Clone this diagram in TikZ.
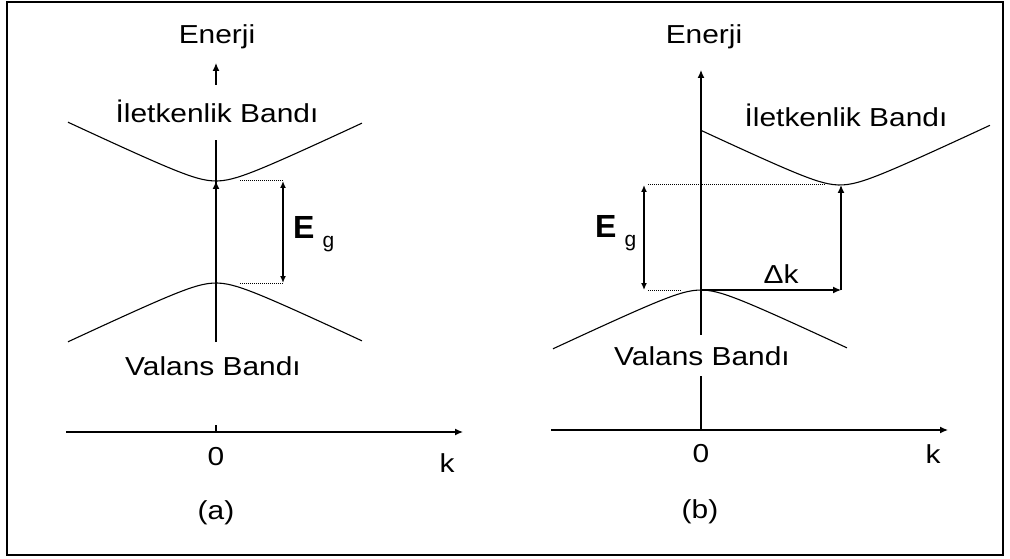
\documentclass[tikz,border=0pt]{standalone}
\usepackage{fontspec}
\setmainfont{Liberation Sans}[FakeStretch=1.15]
\newfontfamily\gapfont{Liberation Sans}
\usetikzlibrary{arrows.meta}

\begin{document}
\begin{tikzpicture}[x=1pt, y=-1pt, every node/.style={font=\fontsize{26}{30}\selectfont, inner sep=0pt},
  band/.style={line width=1.1pt},
  axis/.style={line width=1.3pt},
  tip/.style={-{Latex[length=8pt,width=7pt]}},
  both/.style={{Latex[length=7pt,width=6pt]}-{Latex[length=7pt,width=6pt]}},
  guide/.style={densely dotted, line width=1pt},
  gap/.style={anchor=base west, font=\gapfont\fontsize{32}{36}\selectfont\bfseries}]
\useasboundingbox (0,0) rectangle (1010,559);
\draw[line width=1.5pt] (7,2) rectangle (1003,555);

% (a) direct gap
\coordinate (cminA) at (216,181);
\coordinate (vmaxA) at (216,283);
\coordinate (egtA) at (283,181);
\coordinate (egbA) at (283,283);
\coordinate (kA0) at (66,432);
\coordinate (kA1) at (463,432);
\draw[band] plot[domain=-148:146, samples=60] ({216+\x},{181-4.7*(sqrt(6.25+(\x/10)*(\x/10))-2.5)});
\draw[band] plot[domain=-148:146, samples=60] ({216+\x},{283+4.7*(sqrt(6.25+(\x/10)*(\x/10))-2.5)});
\draw[axis] (216,342) -- (216,140);
\draw[axis, tip] (vmaxA) -- (cminA);
\draw[axis, tip] (216,85) -- (216,63);
\draw[guide] (240,181) -- (egtA);
\draw[guide] (240,283) -- (egbA);
\draw[axis, both] (egtA) -- (egbA);
\draw[axis, tip] (kA0) -- (kA1);
\draw[axis] (216,425) -- (216,432);
\node[anchor=base] (enA) at (217,44) {Enerji};
\node[anchor=base] (ibA) at (217,123) {İletkenlik Bandı};
\node[anchor=base] (vbA) at (213,375) {Valans Bandı};
\node[gap] (egA) at (293,238) {E\hspace{8pt}\raisebox{-9.5pt}{\fontsize{21}{21}\selectfont\mdseries g}};
\node[anchor=base] (zA) at (216,465) {0};
\node[anchor=base] (kA) at (447,472) {k};
\node[anchor=base] (capA) at (216,519) {(a)};

% (b) indirect gap
\coordinate (cminB) at (841,185);
\coordinate (vmaxB) at (701,290);
\coordinate (dkB) at (841,290);
\coordinate (egtB) at (644,185);
\coordinate (egbB) at (644,290);
\coordinate (kB0) at (551,430);
\coordinate (kB1) at (948,430);
\draw[axis, tip] (701,430) -- (701,70);
\draw[band] plot[domain=-139:150, samples=60] ({840+\x},{185-4.7*(sqrt(6.25+(\x/10)*(\x/10))-2.5)});
\draw[band] plot[domain=-148:146, samples=60] ({701+\x},{290+4.7*(sqrt(6.25+(\x/10)*(\x/10))-2.5)});
\draw[guide] (648,185) -- (825,185);
\draw[guide] (648,290) -- (682,290);
\draw[axis, both] (egtB) -- (egbB);
\draw[axis, tip] (vmaxB) -- (dkB);
\draw[axis, tip] (dkB) -- (cminB);
\draw[axis, tip] (kB0) -- (kB1);
\node[anchor=base] (enB) at (704,44) {Enerji};
\node[anchor=base] (ibB) at (846,127) {İletkenlik Bandı};
\node[anchor=base, fill=white, inner ysep=11pt] (vbB) at (702,365) {Valans Bandı};
\node[gap] (egB) at (595,237) {E\hspace{8pt}\raisebox{-9.5pt}{\fontsize{21}{21}\selectfont\mdseries g}};
\node[anchor=base] (dk) at (781,283) {Δk};
\node[anchor=base] (zB) at (701,462) {0};
\node[anchor=base] (kB) at (933,463) {k};
\node[anchor=base] (capB) at (700,518) {(b)};
\end{tikzpicture}
\end{document}
